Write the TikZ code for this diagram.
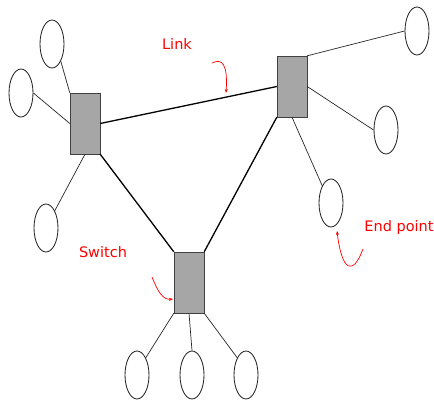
\documentclass[tikz,border=0pt]{standalone}
\usepackage{fontspec}
\setmainfont{DejaVu Sans}
\usetikzlibrary{shapes.geometric,arrows.meta}

\begin{document}
\begin{tikzpicture}[x=1pt, y=-1pt,
    switch/.style = {draw=black!75, fill=black!35, minimum width=30pt,
                     minimum height=61pt, inner sep=0pt},
    endpt/.style  = {draw=black!85, line width=0.85pt, ellipse,
                     minimum width=24pt, minimum height=48pt, inner sep=0pt},
    link/.style   = {line width=1.3pt},
    wire/.style   = {draw=black!85, line width=0.7pt},
    note/.style   = {text=red, font=\fontsize{14.5}{16}\selectfont},
    pointer/.style = {red, line width=0.7pt, -{Stealth[length=4pt,width=3pt]}}]
  \useasboundingbox (0,0) rectangle (434,400);

  % switches
  \node [switch] (swA) at (85,123.5)  {};
  \node [switch] (swB) at (292,86.5)  {};
  \node [switch] (swC) at (189,282.5) {};

  % end points
  \node [endpt] (e1) at (52,44)   {};
  \node [endpt] (e2) at (21,93)   {};
  \node [endpt] (e3) at (46,228)  {};
  \node [endpt] (e4) at (417,31)  {};
  \node [endpt] (e5) at (386,130) {};
  \node [endpt] (e6) at (331,203) {};
  \node [endpt] (e7) at (137,375) {};
  \node [endpt] (e8) at (192,375) {};
  \node [endpt] (e9) at (246,375) {};

  % links between switches
  \draw [link] (swA.east) -- (swB.west);
  \draw [link] (swA.south east) -- (swC.north west);
  \draw [link] (swB.south west) -- (swC.north east);

  % end point wires
  \draw [wire] (swA.north west) -- (e1.south east);
  \draw [wire] (swA.west) -- (e2.east);
  \draw [wire] (swA.south) -- (e3.north east);
  \draw [wire] (swB.north east) -- (e4.west);
  \draw [wire] (swB.east) -- (e5.west);
  \draw [wire] (swB.south) -- (e6.north west);
  \draw [wire] (swC.south west) -- (e7.north east);
  \draw [wire] (swC.south) -- (e8.north);
  \draw [wire] (swC.south east) -- (e9.north west);

  % labels
  \node [note] (lbLink)   at (177,44)  {Link};
  \node [note] (lbSwitch) at (103,252) {Switch};
  \node [note] (lbEnd)    at (399,227) {End point};

  \coordinate (pLink) at (212,63);
  \coordinate (tLink) at (226,93);
  \coordinate (pSw)   at (152,277);
  \coordinate (tSw)   at (173,299);
  \coordinate (pEnd)  at (363,249);
  \coordinate (tEnd)  at (337,231);

  \draw [pointer] (pLink) .. controls (222,58) and (228,64) .. (tLink);
  \draw [pointer] (pSw) .. controls (158,292) and (163,300) .. (tSw);
  \draw [pointer] (pEnd) .. controls (353,276) and (342,272) .. (tEnd);
\end{tikzpicture}
\end{document}
